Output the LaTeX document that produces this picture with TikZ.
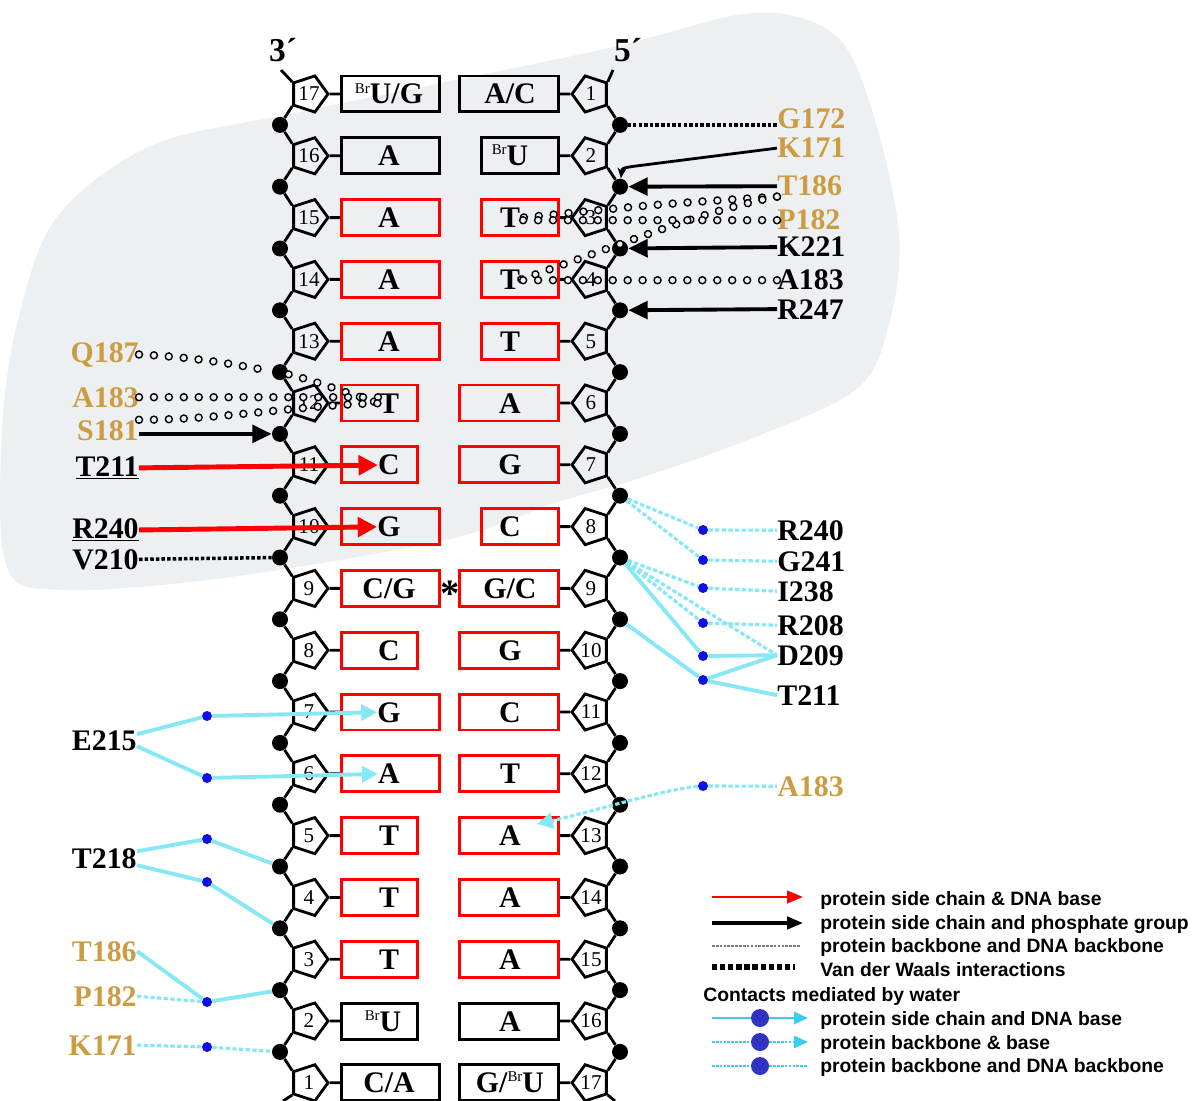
\documentclass[tikz,border=0pt]{standalone}
\usepackage{fontspec}
\setmainfont{Liberation Serif}
\newfontfamily\legendfont{Liberation Sans}
\usepackage{tikz}
\usetikzlibrary{shapes.geometric, arrows.meta, positioning, calc, decorations.markings}
\definecolor{resgold}{RGB}{205,155,65}
\definecolor{watercyan}{RGB}{135,232,245}
\definecolor{legcyan}{RGB}{60,205,235}
\definecolor{waterblue}{RGB}{15,15,230}
\definecolor{legblue}{RGB}{50,50,195}
\definecolor{shadegray}{RGB}{237,240,242}
\definecolor{bbgray}{RGB}{125,125,125}

\newcommand{\brsup}{\raisebox{0.8ex}{\fontsize{8.5}{8.5}\selectfont\mdseries Br}}
\newcommand{\resfont}{\fontsize{17}{17}\selectfont\bfseries}

\tikzset{
  pentl/.style={regular polygon, regular polygon sides=5, shape border rotate=-90, draw, line width=1.6pt, minimum size=0.76cm, inner sep=0pt, font=\fontsize{12}{12}\selectfont},
  pentr/.style={pentl, shape border rotate=90},
  pdot/.style={circle, fill=black, inner sep=0pt, minimum size=0.32cm},
  basebox/.style={draw, line width=1.7pt, minimum height=0.72cm, inner sep=0pt},
  basetxt/.style={font=\resfont, inner sep=0pt, anchor=base},
  res/.style={font=\resfont, inner sep=0pt},
  wdot/.style={circle, fill=waterblue, inner sep=0pt, minimum size=0.2cm},
  strand/.style={line width=1.6pt},
  phos/.style={line width=2.2pt, -{Triangle[length=11pt, width=10pt]}},
  sbase/.style={red, line width=2.8pt, -{Triangle[length=11pt, width=11pt]}},
  vdw/.style={line width=2pt, dash pattern=on 2pt off 1.2pt},
  hbond/.style={decoration={markings, mark=between positions 0 and 1 step 8.5pt with {\draw[line width=0.8pt, fill=shadegray] (0,0) circle (2pt);}}, decorate},
  wsc/.style={watercyan, line width=2.2pt},
  wbb/.style={watercyan, line width=1.8pt, dash pattern=on 2.5pt off 1.3pt},
  warr/.style={-{Triangle[length=9pt, width=9pt]}},
  legtxt/.style={font=\legendfont\bfseries\fontsize{11}{11}\selectfont, inner sep=0pt, anchor=base west},
}

\begin{document}
\begin{tikzpicture}[x=0.02cm, y=-0.02cm]
\useasboundingbox (0,0) rectangle (1199,1101);

% shaded protein region
\fill[shadegray] plot[smooth cycle, tension=0.55] coordinates {(2,430) (18,320) (57,217) (153,145) (300,112) (600,50) (753,13) (835,35) (872,110) (899,233) (890,320) (858,388) (753,438) (640,478) (558,502) (446,540) (223,578) (60,590) (6,565)};

% left strand (3' -> 5')
\foreach \i/\w/\c/\t/\tx in {1/1.96/black/{\brsup U/G}/389, 2/1.96/black/A/389, 3/1.96/red/A/389, 4/1.96/red/A/389, 5/1.96/red/A/389,
  6/1.52/red/T/389, 7/1.52/red/C/389, 8/1.96/red/G/389, 9/1.96/red/{C/G}/389, 10/1.52/red/C/389,
  11/1.96/red/G/389, 12/1.96/red/A/389, 13/1.52/red/T/389, 14/1.52/red/T/389, 15/1.52/red/T/389,
  16/1.52/black/{\brsup U}/383, 17/1.96/black/{C/A}/389}{
  \pgfmathsetmacro{\y}{94+(\i-1)*61.8}
  \pgfmathtruncatemacro{\n}{18-\i}
  \node[pentl] (pl\i) at (309,\y) {\n};
  \node[basebox, draw=\c, minimum width=\w cm, anchor=west] (bxl\i) at (340,\y) {};
  \node[basetxt] (tl\i) at (\tx,\y+10) {\t};
  \draw[strand] (pl\i.0) -- (bxl\i.west);
}

% right strand (5' -> 3')
\foreach \i/\w/\c/\t in {1/1.98/black/{A/C}, 2/1.54/black/{\brsup U}, 3/1.54/red/T, 4/1.54/red/T, 5/1.54/red/T,
  6/1.98/red/A, 7/1.98/red/G, 8/1.54/red/C, 9/1.98/red/{G/C}, 10/1.98/red/G,
  11/1.98/red/C, 12/1.98/red/T, 13/1.98/red/A, 14/1.98/red/A, 15/1.98/red/A,
  16/1.98/black/A, 17/1.98/black/{G/\brsup U}}{
  \pgfmathsetmacro{\y}{94+(\i-1)*61.8}
  \node[pentr] (pr\i) at (591,\y) {\i};
  \node[basebox, draw=\c, minimum width=\w cm, anchor=east] (bxr\i) at (560,\y) {};
  \node[basetxt] (tr\i) at (510,\y+10) {\t};
  \draw[strand] (pr\i.180) -- (bxr\i.east);
}

% phosphates
\foreach \i in {1,...,16}{
  \pgfmathsetmacro{\y}{94+(\i-1)*61.8+30.9}
  \node[pdot] (bl\i) at (280,\y) {};
  \node[pdot] (br\i) at (620,\y) {};
}
\foreach \i [evaluate=\i as \j using int(\i+1)] in {1,...,16}{
  \draw[strand] (pl\i.216) -- (bl\i) -- (pl\j.144);
  \draw[strand] (pr\i.-36) -- (br\i) -- (pr\j.36);
}

% strand ends
\coordinate (end3) at (281,70);
\coordinate (endl) at (283,1101);
\coordinate (end5) at (613,70);
\coordinate (endr) at (615,1101);
\draw[strand] (pl1.144) -- (end3);
\draw[strand] (pl17.216) -- (endl);
\draw[strand] (pr1.36) -- (end5);
\draw[strand] (pr17.-36) -- (endr);
\node[font=\fontsize{19}{19}\selectfont\bfseries, anchor=base] (lab3) at (283,62) {3´};
\node[font=\fontsize{19}{19}\selectfont\bfseries, anchor=base] (lab5) at (628,62) {5´};
\node[font=\fontsize{22}{22}\selectfont\bfseries] (star) at (450,594) {*};

% residues, right side
\node[res, text=resgold, anchor=base west] (g172) at (777,129) {G172};
\node[res, text=resgold, anchor=base west] (k171r) at (777,158) {K171};
\node[res, text=resgold, anchor=base west] (t186r) at (777,196) {T186};
\node[res, text=resgold, anchor=base west] (p182r) at (777,230) {P182};
\node[res, anchor=base west] (k221) at (777,257) {K221};
\node[res, anchor=base west] (a183r) at (777,290) {A183};
\node[res, anchor=base west] (r247) at (777,319) {R247};
\node[res, anchor=base west] (r240r) at (777,540) {R240};
\node[res, anchor=base west] (g241) at (777,571) {G241};
\node[res, anchor=base west] (i238) at (777,601) {I238};
\node[res, anchor=base west] (r208) at (777,635) {R208};
\node[res, anchor=base west] (d209) at (777,665) {D209};
\node[res, anchor=base west] (t211r) at (777,705) {T211};
\node[res, text=resgold, anchor=base west] (a183g) at (777,796) {A183};

% residues, left side
\node[res, text=resgold, anchor=base east] (q187) at (139,362) {Q187};
\node[res, text=resgold, anchor=base east] (a183l) at (139,407) {A183};
\node[res, text=resgold, anchor=base east] (s181) at (139,440) {S181};
\node[res, anchor=base east] (t211l) at (139,476) {\underline{T211}};
\node[res, anchor=base east] (r240l) at (139,538) {\underline{R240}};
\node[res, anchor=base east] (v210) at (139,569) {V210};
\node[res, anchor=base east] (e215) at (137,750) {E215};
\node[res, anchor=base east] (t218) at (137,868) {T218};
\node[res, text=resgold, anchor=base east] (t186l) at (137,961) {T186};
\node[res, text=resgold, anchor=base east] (p182l) at (137,1006) {P182};
\node[res, text=resgold, anchor=base east] (k171l) at (137,1055) {K171};

% water molecules
\node[wdot] (we1) at (207,716) {};
\node[wdot] (we2) at (207,778) {};
\node[wdot] (wt1) at (207,839) {};
\node[wdot] (wt2) at (207,882) {};
\node[wdot] (wp) at (207,1002) {};
\node[wdot] (wk) at (207,1047) {};
\node[wdot] (wr240) at (703,530) {};
\node[wdot] (wg241) at (703,560) {};
\node[wdot] (wi238) at (703,588) {};
\node[wdot] (wr208) at (703,623) {};
\node[wdot] (wd209) at (703,656) {};
\node[wdot] (wt211) at (703,680) {};
\node[wdot] (wa183g) at (703,786) {};

% direct contacts, right
\draw[vdw] (br1 -| g172.west) -- (br1);
\coordinate (kbend) at (636,166);
\draw[line width=1.6pt, -{Stealth[length=6pt, width=5pt]}] (k171r.west) -- (kbend) .. controls (622,168) .. (br2);
\draw[phos] (t186r.west) -- (br2);
\draw[phos] (k221.west) -- (br3);
\draw[phos] (r247.west) -- (br4);
\draw[hbond] (t186r.south west) .. controls (660,204) .. (tr3.east);
\draw[hbond] (t186r.south west) .. controls (700,212) and (640,238) .. (tr4.east);
\draw[hbond] (p182r.west) -- (p182r.west -| tr3.east);
\draw[hbond] (a183r.west) -- (a183r.west -| tr4.east);

% direct contacts, left
\draw[hbond] (q187.east) .. controls (210,358) and (250,368) .. (bl5) .. controls (310,380) .. (tl6.west);
\draw[hbond] (a183l.east) -- (a183l.east -| tl6.west);
\draw[hbond] (s181.north east) .. controls (220,420) and (300,405) .. (tl6.west);
\draw[phos] (bl6 -| s181.east) -- (bl6);
\draw[sbase] (t211l.east) -- (tl7.west);
\draw[sbase] (r240l.east) -- (tl8.west);
\draw[vdw] (v210.east) -- (bl8);

% water mediated, left
\draw[wsc] ($(e215.east)+(0,-6)$) -- (we1);
\draw[wsc, warr] (we1) -- (tl11.west);
\draw[wsc] ($(e215.east)+(0,6)$) -- (we2);
\draw[wsc, warr] (we2) -- (tl12.west);
\draw[wsc] ($(t218.east)+(0,-7)$) -- (wt1) -- (bl13);
\draw[wsc] ($(t218.east)+(0,7)$) -- (wt2) -- (bl14);
\draw[wsc] (t186l.east) -- (wp) -- (bl15);
\draw[wbb] (p182l.east) -- (wp);
\draw[wbb] (k171l.east) -- (wk) -- (bl16);

% water mediated, right
\draw[wbb] (br7) -- (wr240) -- (r240r.west);
\draw[wbb] (br7) -- (wg241) -- (g241.west);
\draw[wbb] (br8) -- (wi238) -- (i238.west);
\draw[wbb] (br8) -- (wr208) -- (r208.west);
\draw[wbb] (br8) -- (d209.west);
\draw[wsc] (br8) -- (wd209) -- (d209.west);
\draw[wsc] (br9) -- (wt211) -- (d209.west);
\draw[wsc] (wt211) -- (t211r.west);
\draw[wbb] (wa183g) -- (a183g.west);
\coordinate (atip) at (537,824);
\draw[wbb, warr] (wa183g) .. controls (660,790) and (600,810) .. (atip);

% Legend
\coordinate (la1) at (712,897); \coordinate (lb1) at (803,897);
\coordinate (la2) at (712,923); \coordinate (lb2) at (803,923);
\coordinate (la3) at (712,946); \coordinate (lb3) at (800,946);
\coordinate (la4) at (712,967); \coordinate (lb4) at (795,967);
\coordinate (la5) at (712,1018); \coordinate (lb5) at (808,1018);
\coordinate (la6) at (712,1042); \coordinate (lb6) at (808,1042);
\coordinate (la7) at (712,1066); \coordinate (lb7) at (808,1066);
\draw[sbase, line width=1.5pt, -{Triangle[length=9pt, width=7pt]}] (la1) -- (lb1);
\draw[line width=1.8pt, -{Triangle[length=9pt, width=7pt]}] (la2) -- (lb2);
\draw[bbgray, line width=1pt, dash pattern=on 1.5pt off 0.7pt] (la3) -- (lb3);
\draw[line width=3pt, dash pattern=on 3pt off 1.6pt] (la4) -- (lb4);
\node[wdot, fill=legblue, minimum size=0.36cm] (lw5) at (760,1018) {};
\node[wdot, fill=legblue, minimum size=0.36cm] (lw6) at (760,1042) {};
\node[wdot, fill=legblue, minimum size=0.36cm] (lw7) at (760,1066) {};
\draw[legcyan, line width=1.4pt] (la5) -- (lw5);
\draw[legcyan, line width=1.4pt, -{Triangle[length=8pt, width=7pt]}] (lw5) -- (lb5);
\draw[legcyan, line width=1.2pt, dash pattern=on 1.5pt off 0.7pt] (la6) -- (lw6);
\draw[legcyan, line width=1.2pt, dash pattern=on 1.5pt off 0.7pt, -{Triangle[length=8pt, width=7pt]}] (lw6) -- (lb6);
\draw[legcyan, line width=1.2pt, dash pattern=on 1.5pt off 0.7pt] (la7) -- (lw7) -- (lb7);
\node[legtxt] (lg1) at (820,905) {protein side chain \& DNA base};
\node[legtxt] (lg2) at (820,929) {protein side chain and phosphate group};
\node[legtxt] (lg3) at (820,952) {protein backbone and DNA backbone};
\node[legtxt] (lg4) at (820,976) {Van der Waals interactions};
\node[legtxt] (lg0) at (703,1001) {Contacts mediated by water};
\node[legtxt] (lg5) at (820,1025) {protein side chain and DNA base};
\node[legtxt] (lg6) at (820,1049) {protein backbone \& base};
\node[legtxt] (lg7) at (820,1072) {protein backbone and DNA backbone};
\end{tikzpicture}
\end{document}
